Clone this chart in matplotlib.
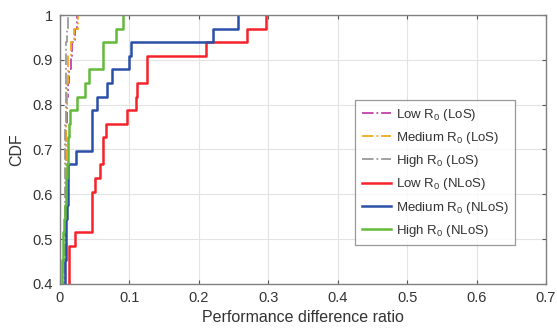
import matplotlib

matplotlib.use("Agg")
import matplotlib.pyplot as plt
import numpy as np

# 33 sorted samples per curve (the lowest
# ones sit under the y-limit of 0.4 and are only rough guesses)
LOW_NLOS = [0.002, 0.003, 0.004, 0.005, 0.006, 0.007, 0.008, 0.009, 0.010, 0.011,
            0.012, 0.012, 0.013, 0.0134, 0.0134, 0.0134, 0.0216, 0.0466, 0.0466, 0.0466,
            0.0504, 0.0576, 0.0615, 0.0615, 0.0662, 0.096, 0.110, 0.111, 0.1246, 0.1246,
            0.211, 0.269, 0.297]
MED_NLOS = [0.001, 0.001, 0.002, 0.002, 0.003, 0.003, 0.004, 0.004, 0.005, 0.005,
            0.005, 0.006, 0.006, 0.0065, 0.007, 0.008, 0.008, 0.009, 0.010, 0.011,
            0.011, 0.012, 0.0226, 0.0456, 0.0456, 0.0456, 0.0538, 0.067, 0.0744, 0.100,
            0.102, 0.220, 0.257]
HIGH_NLOS = [0.0, 0.0, 0.0, 0.0005, 0.0005, 0.001, 0.001, 0.001, 0.0015, 0.0015,
             0.002, 0.002, 0.002, 0.0025, 0.003, 0.004, 0.005, 0.006, 0.007, 0.008,
             0.009, 0.010, 0.011, 0.012, 0.013, 0.0145, 0.025, 0.036, 0.042, 0.0615,
             0.0615, 0.0807, 0.0903]
LOW_LOS = [0.001, 0.001, 0.002, 0.002, 0.003, 0.003, 0.004, 0.004, 0.005, 0.005,
           0.006, 0.006, 0.0065, 0.007, 0.007, 0.007, 0.0075, 0.0075, 0.008, 0.008,
           0.008, 0.0085, 0.0085, 0.009, 0.009, 0.0095, 0.010, 0.011, 0.013, 0.016,
           0.018, 0.022, 0.025]
MED_LOS = [0.001, 0.001, 0.002, 0.002, 0.003, 0.003, 0.004, 0.004, 0.005, 0.005,
           0.006, 0.006, 0.0065, 0.007, 0.007, 0.007, 0.0075, 0.0075, 0.0075, 0.008,
           0.008, 0.008, 0.0085, 0.0085, 0.009, 0.009, 0.0095, 0.010, 0.011, 0.012,
           0.016, 0.020, 0.026]
HIGH_LOS = [0.001, 0.001, 0.002, 0.002, 0.003, 0.003, 0.004, 0.004, 0.005, 0.005,
            0.005, 0.006, 0.006, 0.006, 0.006, 0.0065, 0.0065, 0.0065, 0.007, 0.007,
            0.007, 0.007, 0.0075, 0.0075, 0.0075, 0.008, 0.008, 0.008, 0.0085, 0.009,
            0.009, 0.010, 0.011]

LABELS = ["Low R$_{0}$ (LoS)", "Medium R$_{0}$ (LoS)", "High R$_{0}$ (LoS)",
          "Low R$_{0}$ (NLoS)", "Medium R$_{0}$ (NLoS)", "High R$_{0}$ (NLoS)"]
SERIES = [LOW_LOS, MED_LOS, HIGH_LOS, LOW_NLOS, MED_NLOS, HIGH_NLOS]
COLORS = ["#c042a8", "#f0aa1e", "#9a9a9a", "#f5222a", "#2a4fa8", "#62bb3a"]
STYLES = ["-.", "-.", "-.", "-", "-", "-"]
WIDTHS = [1.3, 1.3, 1.3, 1.8, 1.8, 1.8]

TXT = "#333333"
plt.rcParams["font.family"] = ["Liberation Sans", "DejaVu Sans"]
plt.rcParams["mathtext.fontset"] = "custom"
plt.rcParams["mathtext.rm"] = "Liberation Sans"
plt.rcParams["mathtext.it"] = "Liberation Sans"

fig = plt.figure(figsize=(5.57, 3.29), dpi=100)
ax = fig.add_axes([0.1077, 0.1368, 0.8726, 0.8176])

for vals, lab, c, ls, lw in zip(SERIES, LABELS, COLORS, STYLES, WIDTHS):
    x = np.sort(np.asarray(vals, dtype=float))
    y = np.arange(1, len(x) + 1) / len(x)
    # empirical CDF, drawn as a staircase starting at 0
    ax.step(np.r_[x[0], x], np.r_[0, y], where="post", color=c, ls=ls, lw=lw, label=lab)

ax.set_xlim(0, 0.7)
ax.set_ylim(0.4, 1)
ax.set_xticks(np.arange(0, 0.71, 0.1))
ax.set_xticklabels(["0", "0.1", "0.2", "0.3", "0.4", "0.5", "0.6", "0.7"])
ax.set_yticks(np.arange(0.4, 1.01, 0.1))
ax.set_yticklabels(["0.4", "0.5", "0.6", "0.7", "0.8", "0.9", "1"])
ax.grid(True, color="#e3e3e3", lw=0.8)
ax.set_axisbelow(True)
ax.tick_params(direction="in", top=True, right=True, length=3, width=0.8,
               color="#555555", labelsize=10.5, labelcolor=TXT, pad=5)
for s in ax.spines.values():
    s.set_color("#808080")
    s.set_linewidth(1.0)
ax.set_xlabel("Performance difference ratio", fontsize=11.5, color=TXT, labelpad=4)
ax.set_ylabel("CDF", fontsize=11.5, color=TXT, labelpad=6)

leg = ax.legend(loc="upper left", bbox_to_anchor=(0.607, 0.684), fontsize=9.5,
                frameon=True, fancybox=False, handlelength=2.2, handletextpad=0.4,
                borderpad=0.5, labelspacing=0.55, borderaxespad=0)
leg.get_frame().set_edgecolor("#808080")
leg.get_frame().set_linewidth(0.9)
for t in leg.get_texts():
    t.set_color(TXT)

fig.savefig("out.png", dpi=100)
